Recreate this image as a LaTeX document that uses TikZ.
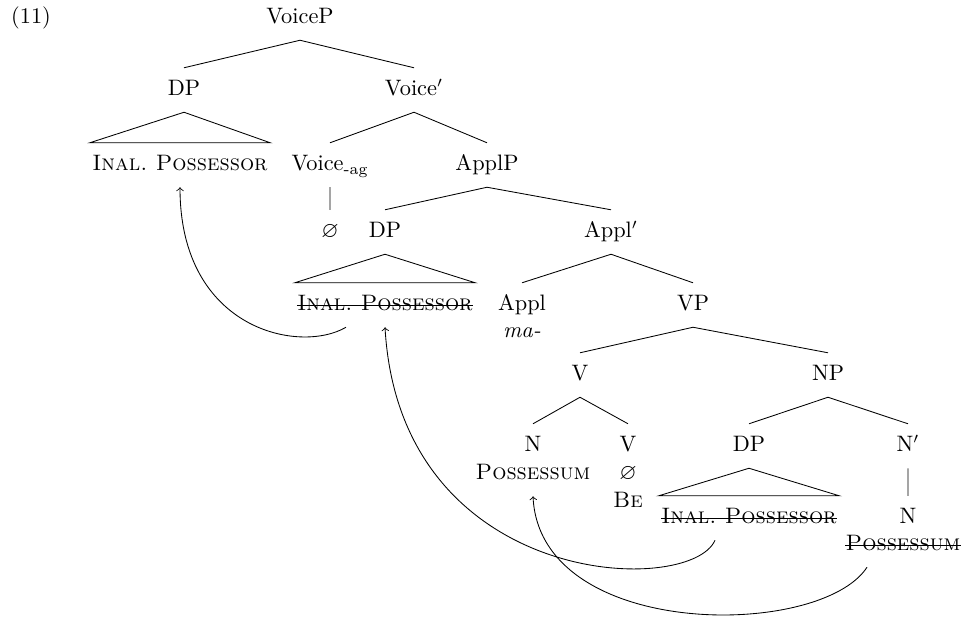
\documentclass[tikz,border=0pt]{standalone}
\usepackage{amssymb}
\usetikzlibrary{calc}

\tikzset{
  cat/.style={inner ysep=5.5pt, inner xsep=1pt, text height=7.5pt, text depth=2pt,
    font=\fontsize{10.5pt}{12.6pt}\selectfont\frenchspacing},
  strike/.style={shorten <=1pt, shorten >=1pt},
}

\begin{document}
\begin{tikzpicture}[x=0.47pt,y=-0.47pt]
  \useasboundingbox (0,0) rectangle (961,618);

  \node[cat] (ex) at (31,18) {(11)};

  % top of the tree
  \node[cat] (voicep) at (300,18) {VoiceP};
  \node[cat] (dp1) at (184,90) {DP};
  \node[cat] (voicebar) at (414,90) {Voice$'$};
  \node[cat] (ip1) at (180,165) {\textsc{Inal. Possessor}};
  \node[cat] (voice) at (330,165) {Voice\textsubscript{-ag}};
  \node[cat] (applp) at (487,165) {ApplP};
  \node[cat] (null1) at (330,232) {$\varnothing$};
  \node[cat] (dp2) at (385,232) {DP};
  \node[cat] (applbar) at (611,232) {Appl$'$};
  \node[cat] (ip2) at (385,305) {\textsc{Inal. Possessor}};
  \node[cat] (appl) at (522,305) {Appl};
  \node[cat] (ma) at (522,332) {\textit{ma-}};
  \node[cat] (vp) at (693,305) {VP};

  % lower part
  \node[cat] (v1) at (580,375) {V};
  \node[cat] (np) at (828,375) {NP};
  \node[cat] (n1) at (533,446) {N};
  \node[cat] (poss1) at (533,474) {\textsc{Possessum}};
  \node[cat] (v2) at (628,446) {V};
  \node[cat] (null2) at (628,474) {$\varnothing$};
  \node[cat] (be) at (628,502) {\textsc{Be}};
  \node[cat] (dp3) at (749,446) {DP};
  \node[cat] (nbar) at (908,446) {N$'$};
  \node[cat] (ip3) at (749,518) {\textsc{Inal. Possessor}};
  \node[cat] (n2) at (908,518) {N};
  \node[cat] (poss2) at (903,545) {\textsc{Possessum}};

  % branches
  \draw (voicep.south) -- (dp1.north)
        (voicep.south) -- (voicebar.north)
        (voicebar.south) -- (voice.north)
        (voicebar.south) -- (applp.north)
        (voice.south) -- (null1.north)
        (applp.south) -- (dp2.north)
        (applp.south) -- (applbar.north)
        (applbar.south) -- (appl.north)
        (applbar.south) -- (vp.north)
        (vp.south) -- (v1.north)
        (vp.south) -- (np.north)
        (v1.south) -- (n1.north)
        (v1.south) -- (v2.north)
        (np.south) -- (dp3.north)
        (np.south) -- (nbar.north)
        (nbar.south) -- (n2.north);

  % roofs
  \draw (dp1.south) -- (ip1.north west) -- (ip1.north east) -- cycle;
  \draw (dp2.south) -- (ip2.north west) -- (ip2.north east) -- cycle;
  \draw (dp3.south) -- (ip3.north west) -- (ip3.north east) -- cycle;

  % copies that are struck out
  \draw[strike] (ip2.west) -- (ip2.east);
  \draw[strike] (ip3.west) -- (ip3.east);
  \draw[strike] (poss2.west) -- (poss2.east);

  % movement
  \draw[->] ($(ip2.south)+(-39,0)$) .. controls +(-46,27) and +(0,143) .. (ip1.south);
  \draw[->] ($(ip3.south)+(-34,0)$) .. controls +(-25,57) and +(15,262) .. (ip2.south);
  \draw[->] ($(poss2.south)+(-36,0)$) .. controls +(-47,72) and +(7,144) .. (poss1.south);
\end{tikzpicture}
\end{document}
